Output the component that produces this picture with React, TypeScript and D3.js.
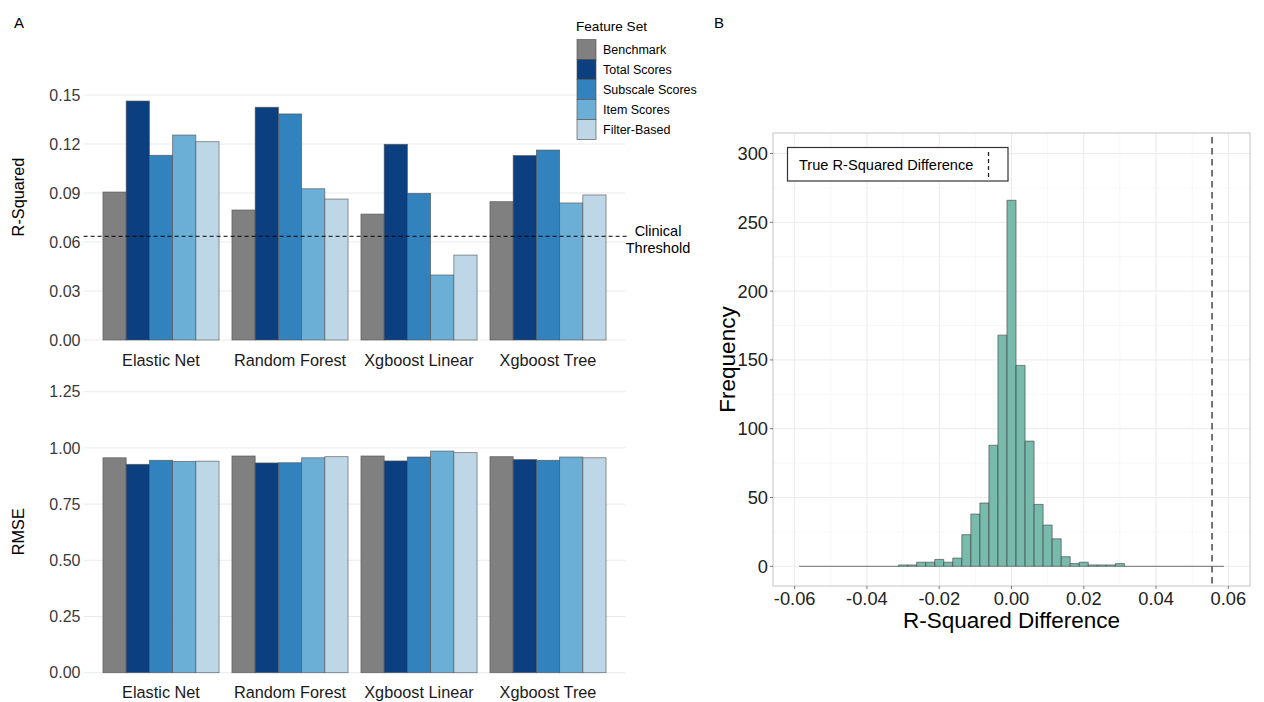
import React from "react";
import * as d3 from "d3";

// ---------- Data ----------
const models = ["Elastic Net", "Random Forest", "Xgboost Linear", "Xgboost Tree"];
const featureSets = ["Benchmark", "Total Scores", "Subscale Scores", "Item Scores", "Filter-Based"];
const featureColors = ["#808080", "#0b3f7f", "#3182bd", "#6baed6", "#bdd7e7"];

// R-squared per feature set (order follows models)
const rsqBenchmark = [0.0906, 0.0796, 0.0771, 0.0847];
const rsqTotal = [0.1463, 0.1425, 0.1198, 0.1129];
const rsqSubscale = [0.1131, 0.1384, 0.0898, 0.1163];
const rsqItem = [0.1255, 0.0926, 0.0398, 0.0839];
const rsqFilter = [0.1214, 0.0863, 0.052, 0.0888];
const rsqSeries = [rsqBenchmark, rsqTotal, rsqSubscale, rsqItem, rsqFilter];

// RMSE per feature set
const rmseBenchmark = [0.956, 0.964, 0.964, 0.961];
const rmseTotal = [0.927, 0.933, 0.942, 0.948];
const rmseSubscale = [0.945, 0.934, 0.9595, 0.945];
const rmseItem = [0.94, 0.956, 0.986, 0.9595];
const rmseFilter = [0.941, 0.961, 0.979, 0.956];
const rmseSeries = [rmseBenchmark, rmseTotal, rmseSubscale, rmseItem, rmseFilter];

const rsqTicks = [0, 0.03, 0.06, 0.09, 0.12, 0.15];
const rmseTicks = [0, 0.25, 0.5, 0.75, 1.0, 1.25];
const clinicalThreshold = 0.0635;

// Permutation histogram: counts of bins of width 0.0025 starting at -0.05875
const histBinStart = -0.05875;
const histBinWidth = 0.0025;
const histCounts = [
  0, 0, 0, 0, 0, 0, 0, 0, 0, 0, 0,
  1, 1, 3, 3, 5, 3, 6, 23, 38, 46, 88, 168,
  266,
  146, 91, 45, 30, 20, 7, 2, 3, 1, 1, 1, 2,
  0, 0, 0, 0, 0, 0, 0, 0, 0, 0, 0,
];
const trueDifference = 0.0555;
const histXTicks = [-0.06, -0.04, -0.02, 0, 0.02, 0.04, 0.06];
const histXMinor = [-0.05, -0.03, -0.01, 0.01, 0.03, 0.05];
const histYTicks = [0, 50, 100, 150, 200, 250, 300];
const histYMinor = [25, 75, 125, 175, 225, 275];

const FONT = "'Liberation Sans', Arial, Helvetica, sans-serif";

function fmt2(v: number) {
  return v.toFixed(2);
}

function BarPanel({
  series,
  ticks,
  yDomain,
  yRange,
  labelY,
  title,
  titleY,
  threshold,
}: {
  series: number[][];
  ticks: number[];
  yDomain: [number, number];
  yRange: [number, number];
  labelY: number;
  title: string;
  titleY: number;
  threshold?: number;
}) {
  const x = d3.scaleBand<string>().domain(models).range([83.6, 625.4]).paddingInner(0.1).paddingOuter(0.15);
  const xi = d3.scaleBand<string>().domain(featureSets).range([0, x.bandwidth()]).padding(0);
  const y = d3.scaleLinear().domain(yDomain).range(yRange);
  const [x0, x1] = x.range();
  return (
    <g>
      {ticks.map((t) => (
        <line key={"g" + t} x1={x0} x2={x1} y1={y(t)} y2={y(t)} stroke="#ebebeb" strokeWidth={1} />
      ))}
      {ticks.map((t) => (
        <text key={"t" + t} x={80.5} y={y(t)} dy="0.35em" textAnchor="end" fontSize={16} fill="#3a3a3a" fontFamily={FONT}>
          {fmt2(t)}
        </text>
      ))}
      {models.map((m, mi) => (
        <g key={m}>
          {featureSets.map((f, fi) => {
            const v = series[fi][mi];
            return (
              <rect
                key={f}
                x={(x(m) as number) + (xi(f) as number)}
                y={y(v)}
                width={xi.bandwidth()}
                height={y(0) - y(v)}
                fill={featureColors[fi]}
                stroke="#505050"
                strokeOpacity={0.75}
                strokeWidth={0.8}
              />
            );
          })}
          <text
            x={(x(m) as number) + x.bandwidth() / 2}
            y={labelY}
            textAnchor="middle"
            fontSize={16.3}
            fill="#1a1a1a"
            fontFamily={FONT}
          >
            {m}
          </text>
        </g>
      ))}
      {threshold !== undefined && (
        <line
          x1={x0}
          x2={x1 + 2}
          y1={y(threshold)}
          y2={y(threshold)}
          stroke="#000"
          strokeWidth={1}
          strokeDasharray="4,3"
        />
      )}
      <text
        transform={`translate(24,${titleY}) rotate(-90)`}
        textAnchor="middle"
        fontSize={16.3}
        fill="#000"
        fontFamily={FONT}
      >
        {title}
      </text>
    </g>
  );
}

function Legend() {
  return (
    <g fontFamily={FONT}>
      <text x={576} y={31} fontSize={13.6} fill="#000">
        Feature Set
      </text>
      {featureSets.map((f, i) => (
        <g key={f}>
          <rect x={577} y={39.5 + i * 20} width={19} height={20} fill={featureColors[i]} stroke="#505050" strokeOpacity={0.8} strokeWidth={0.8} />
          <text x={603} y={50 + i * 20} dy="0.35em" fontSize={12.5} fill="#000">
            {f}
          </text>
        </g>
      ))}
    </g>
  );
}

function Histogram() {
  const left = 773;
  const right = 1250;
  const top = 133;
  const bottom = 586;
  const x = d3.scaleLinear().domain([-0.066, 0.066]).range([left, right]);
  const y = d3.scaleLinear().domain([-14.3, 314.9]).range([bottom, top]);
  return (
    <g fontFamily={FONT}>
      <rect x={left} y={top} width={right - left} height={bottom - top} fill="#fff" />
      {histXMinor.map((t) => (
        <line key={"xm" + t} x1={x(t)} x2={x(t)} y1={top} y2={bottom} stroke="#f2f2f2" strokeWidth={0.6} />
      ))}
      {histYMinor.map((t) => (
        <line key={"ym" + t} x1={left} x2={right} y1={y(t)} y2={y(t)} stroke="#f2f2f2" strokeWidth={0.6} />
      ))}
      {histXTicks.map((t) => (
        <line key={"xg" + t} x1={x(t)} x2={x(t)} y1={top} y2={bottom} stroke="#ebebeb" strokeWidth={1} />
      ))}
      {histYTicks.map((t) => (
        <line key={"yg" + t} x1={left} x2={right} y1={y(t)} y2={y(t)} stroke="#ebebeb" strokeWidth={1} />
      ))}
      {histCounts.map((c, i) => {
        const a = x(histBinStart + i * histBinWidth);
        const b = x(histBinStart + (i + 1) * histBinWidth);
        const y0 = y(0);
        const y1 = y(c);
        return (
          <path
            key={i}
            d={`M${a},${y0}V${y1}H${b}V${y0}Z`}
            fill="#69b3a2"
            fillOpacity={0.9}
            stroke="#3c3c3c"
            strokeOpacity={c === 0 ? 0.6 : 0.85}
            strokeWidth={0.7}
          />
        );
      })}
      <line
        x1={x(trueDifference)}
        x2={x(trueDifference)}
        y1={top + 4}
        y2={bottom}
        stroke="#666"
        strokeWidth={1.8}
        strokeDasharray="6.5,4.5"
      />
      <rect x={left} y={top} width={right - left} height={bottom - top} fill="none" stroke="#c4c4c4" strokeWidth={1} />
      {/* axis ticks + labels */}
      {histYTicks.map((t) => (
        <g key={"yt" + t}>
          <line x1={left - 3} x2={left} y1={y(t)} y2={y(t)} stroke="#555" strokeWidth={0.8} />
          <text x={left - 5} y={y(t)} dy="0.35em" textAnchor="end" fontSize={18.3} fill="#222">
            {t}
          </text>
        </g>
      ))}
      {histXTicks.map((t) => (
        <g key={"xt" + t}>
          <line x1={x(t)} x2={x(t)} y1={bottom} y2={bottom + 3} stroke="#555" strokeWidth={0.8} />
          <text x={x(t)} y={604.5} textAnchor="middle" fontSize={18.3} fill="#222">
            {t === 0 ? "0.00" : (t < 0 ? "-" : "") + Math.abs(t).toFixed(2)}
          </text>
        </g>
      ))}
      <text x={(left + right) / 2} y={628} textAnchor="middle" fontSize={22.5} fill="#000">
        R-Squared Difference
      </text>
      <text transform={`translate(735,${(top + bottom) / 2}) rotate(-90)`} textAnchor="middle" fontSize={22.5} fill="#000">
        Frequency
      </text>
      {/* legend box */}
      <rect x={787.5} y={147.5} width={220.5} height={33.5} fill="#fff" stroke="#333" strokeWidth={1.2} />
      <text x={799} y={164.5} dy="0.35em" fontSize={14.6} fill="#000">
        True R-Squared Difference
      </text>
      <line x1={988.5} x2={988.5} y1={152} y2={177} stroke="#222" strokeWidth={1.3} strokeDasharray="4,3" />
    </g>
  );
}

export default function App() {
  return (
    <svg
      width={1264}
      height={702}
      style={{ position: "absolute", left: 0, top: 0, display: "block", background: "#fff" }}
    >
      <rect x={0} y={0} width={1264} height={702} fill="#fff" />
      <text x={14} y={27.5} fontSize={15} fontFamily={FONT} fill="#000">
        A
      </text>
      <text x={714} y={27.5} fontSize={15} fontFamily={FONT} fill="#000">
        B
      </text>
      <BarPanel
        series={rsqSeries}
        ticks={rsqTicks}
        yDomain={[0, 0.15]}
        yRange={[340, 95]}
        labelY={366}
        title="R-Squared"
        titleY={197}
        threshold={clinicalThreshold}
      />
      <text x={658} y={230.7} dy="0.35em" textAnchor="middle" fontSize={14.5} fontFamily={FONT} fill="#000">
        Clinical
      </text>
      <text x={658} y={247.7} dy="0.35em" textAnchor="middle" fontSize={14.5} fontFamily={FONT} fill="#000">
        Threshold
      </text>
      <BarPanel
        series={rmseSeries}
        ticks={rmseTicks}
        yDomain={[0, 1.25]}
        yRange={[672.7, 391.7]}
        labelY={697.7}
        title="RMSE"
        titleY={531.7}
      />
      <Legend />
      <Histogram />
    </svg>
  );
}
